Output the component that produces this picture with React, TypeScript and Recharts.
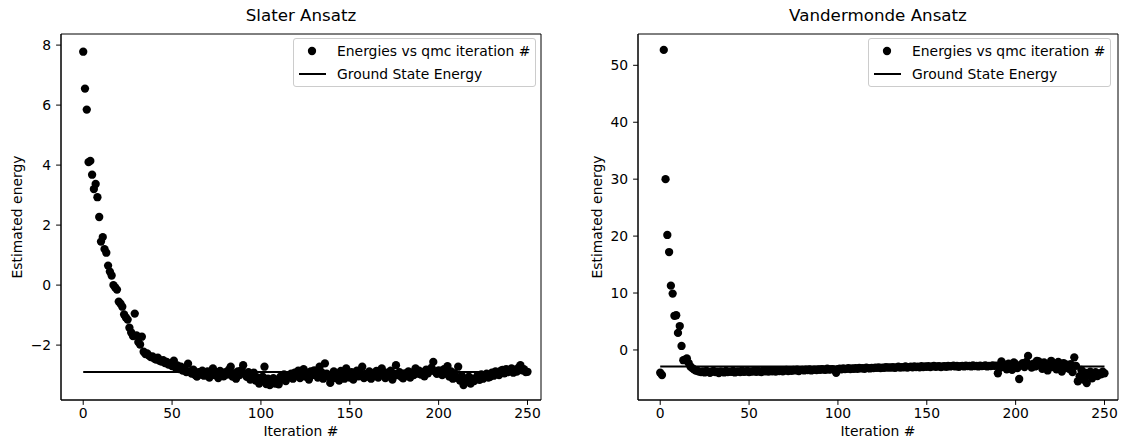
import React from 'react';
import { ScatterChart, Scatter, XAxis, YAxis, ReferenceLine, ReferenceArea } from 'recharts';

const FONT = "'DejaVu Sans', sans-serif";
const FS = 13.9;

const xTicks = [0, 50, 100, 150, 200, 250];
const slaterTicks = [-2, 0, 2, 4, 6, 8];
const vanderTicks = [0, 10, 20, 30, 40, 50];

const groundStateEnergy = -2.9;

const slaterEnergies = [
  7.78, 6.55, 5.85, 4.10, 4.14, 3.68, 3.20, 3.37, 2.93, 2.27,
  1.45, 1.60, 1.20, 1.08, 0.65, 0.45, 0.32, 0.00, -0.08, -0.15,
  -0.55, -0.62, -0.72, -0.98, -1.08, -1.15, -1.42, -1.58, -1.70, -0.95,
  -1.68, -1.90, -1.98, -1.72, -2.22, -2.30, -2.28, -2.35, -2.40, -2.38,
  -2.45, -2.48, -2.42, -2.52, -2.55, -2.50, -2.60, -2.56, -2.65, -2.62,
  -2.70, -2.52, -2.75, -2.68, -2.80, -2.72, -2.85, -2.78, -2.90, -2.62,
  -2.88, -2.95, -2.82, -3.00, -3.05, -2.90, -2.98, -2.85, -3.02, -2.92,
  -2.88, -3.08, -2.95, -2.78, -3.00, -2.92, -3.10, -2.86, -2.95, -3.04,
  -2.90, -2.98, -2.82, -2.72, -3.05, -2.94, -3.12, -2.88, -3.00, -2.84,
  -2.67, -2.96, -3.06, -2.90, -3.15, -3.00, -2.92, -3.18, -3.08, -3.28,
  -3.20, -3.05, -2.72, -3.30, -3.12, -3.33, -3.22, -3.10, -3.28, -3.18,
  -3.31, -3.05, -3.15, -2.98, -3.20, -3.08, -3.06, -2.95, -3.12, -2.92,
  -3.02, -2.85, -3.10, -2.95, -2.80, -3.05, -2.92, -3.15, -2.88, -3.00,
  -2.84, -2.98, -3.08, -2.72, -2.90, -3.12, -2.61, -2.95, -3.05, -3.26,
  -3.02, -2.88, -3.10, -2.96, -3.18, -2.86, -3.00, -3.12, -2.78, -2.94,
  -3.08, -2.90, -3.15, -2.98, -2.85, -3.04, -2.92, -2.72, -3.10, -2.96,
  -3.05, -2.88, -3.12, -2.94, -3.02, -2.86, -3.08, -2.95, -2.78, -3.00,
  -3.10, -2.92, -3.04, -2.85, -3.15, -2.96, -2.67, -3.00, -2.90, -3.06,
  -3.11, -2.94, -3.02, -2.88, -3.08, -2.92, -3.00, -2.78, -2.95, -2.85,
  -2.98, -2.90, -3.04, -2.82, -2.94, -2.86, -2.75, -2.56, -2.88, -2.96,
  -2.84, -2.92, -3.00, -2.80, -2.95, -2.70, -3.05, -2.88, -3.12, -2.94,
  -3.08, -2.72, -3.18, -3.02, -3.33, -3.15, -3.22, -3.05, -3.28, -3.12,
  -3.20, -3.10, -3.00, -3.16, -2.98, -3.12, -3.04, -2.95, -3.08, -3.06,
  -2.92, -3.02, -2.88, -2.96, -3.00, -2.85, -2.83, -2.94, -2.80, -2.90,
  -2.86, -2.78, -2.92, -2.82, -2.88, -2.75, -2.67, -2.84, -2.80, -2.90,
  -2.89,
];

const vandermondeEnergies = [
  -4.0, -4.4, 52.7, 30.0, 20.2, 17.2, 11.3, 9.9, 6.0, 6.1,
  3.0, 4.2, 0.7, -1.8, -1.7, -1.5, -2.3, -2.9, -3.2, -3.4,
  -3.6, -3.7, -3.8, -3.9, -3.75, -3.95, -3.7, -3.85, -4.0, -3.8,
  -3.7, -3.9, -3.8, -4.05, -3.75, -3.85, -3.95, -3.7, -3.9, -3.8,
  -3.85, -3.7, -3.95, -3.8, -3.75, -3.9, -3.65, -3.85, -3.8, -3.7,
  -3.9, -3.75, -3.8, -3.65, -3.85, -3.7, -3.8, -3.9, -3.6, -3.75,
  -3.7, -3.8, -3.6, -3.75, -3.65, -3.8, -3.55, -3.7, -3.6, -3.75,
  -3.6, -3.5, -3.7, -3.55, -3.65, -3.5, -3.6, -3.45, -3.7, -3.55,
  -3.5, -3.6, -3.45, -3.55, -3.4, -3.6, -3.5, -3.45, -3.55, -3.4,
  -3.5, -3.35, -3.45, -3.5, -3.3, -3.45, -3.4, -3.35, -3.5, -4.0,
  -3.35, -3.3, -3.4, -3.25, -3.35, -3.3, -3.2, -3.35, -3.25, -3.3,
  -3.2, -3.3, -3.15, -3.25, -3.2, -3.3, -3.1, -3.2, -3.25, -3.15,
  -3.2, -3.1, -3.15, -3.05, -3.2, -3.1, -3.15, -3.0, -3.1, -3.05,
  -3.1, -3.0, -3.15, -3.05, -2.95, -3.1, -3.0, -3.05, -2.9, -3.1,
  -3.0, -2.95, -3.05, -2.9, -3.0, -2.95, -3.05, -2.85, -3.0, -2.9,
  -2.95, -2.85, -3.0, -2.9, -2.8, -2.95, -2.9, -2.85, -3.0, -2.9,
  -2.85, -2.95, -2.8, -2.9, -2.85, -2.75, -2.9, -2.8, -2.95, -2.85,
  -2.8, -2.9, -2.75, -2.85, -2.8, -2.9, -2.7, -2.85, -2.8, -2.9,
  -2.75, -2.85, -2.8, -2.7, -2.9, -2.8, -2.85, -2.7, -2.8, -2.75,
  -4.1, -3.2, -2.0, -3.0, -2.6, -3.4, -2.4, -2.9, -3.5, -2.2,
  -2.5, -3.2, -5.1, -2.7, -2.3, -3.0, -2.1, -1.05, -2.6, -3.1,
  -2.4, -2.9, -1.9, -2.0, -2.7, -3.3, -2.2, -2.8, -3.6, -2.5,
  -1.9, -3.0, -2.4, -3.4, -2.1, -2.7, -3.8, -2.3, -3.1, -2.6,
  -3.3, -2.5, -3.9, -1.3, -2.8, -5.5, -4.6, -3.5, -5.2, -4.0,
  -5.8, -4.4, -3.8, -5.0, -4.2, -3.9, -4.6, -4.1, -4.3, -3.8,
  -4.1,
];

const iterations = slaterEnergies.map((_, i) => i);

const X_DOMAIN: [number, number] = [-12.5, 257.6];

const fmt = (v: number) => (v < 0 ? '\u2212' + Math.abs(v) : String(v));

const Dot = (props: any) => {
  const { cx, cy } = props;
  if (cx == null || cy == null) return null;
  return <circle cx={cx} cy={cy} r={4.15} fill="#000" />;
};

const YLabel = (props: any) => {
  const { viewBox, value, xPos } = props;
  const cy = viewBox.y + viewBox.height / 2;
  const cx = viewBox.x + xPos;
  return (
    <text x={cx} y={cy} transform={`rotate(-90, ${cx}, ${cy})`} textAnchor="middle" dominantBaseline="central"
      fontSize={FS} fontFamily={FONT} fill="#000">{value}</text>
  );
};

const XLabel = (props: any) => {
  const { viewBox, value } = props;
  const cx = viewBox.x + viewBox.width / 2;
  return (
    <text x={cx} y={436} textAnchor="middle" fontSize={FS} fontFamily={FONT} fill="#000">{value}</text>
  );
};

type PanelProps = {
  title: string;
  values: number[];
  yDomain: [number, number];
  yTicks: number[];
  yAxisWidth: number;
  marginRight: number;
  left: number;
  yLabelX: number;
  legendLeft: number;
};

const Panel = ({ title, values, yDomain, yTicks, yAxisWidth, marginRight, left, yLabelX, legendLeft }: PanelProps) => {
  const data = iterations.map((x, i) => ({ x, y: values[i] }));
  const plotLeft = yAxisWidth;
  const plotRight = 561 - marginRight;
  const tickStyle = { fontSize: FS, fill: '#000', fontFamily: FONT };
  return (
    <div style={{ position: 'absolute', left, top: 0, width: 561, height: 440 }}>
      <div style={{ position: 'absolute', top: 5, left: plotLeft, width: plotRight - plotLeft, textAlign: 'center',
        fontFamily: FONT, fontSize: 16.7, lineHeight: '20px', color: '#000', whiteSpace: 'nowrap' }}>{title}</div>
      <ScatterChart width={561} height={440} margin={{ top: 34, right: marginRight, bottom: 0, left: 0 }}>
        <XAxis type="number" dataKey="x" domain={X_DOMAIN} ticks={xTicks} allowDataOverflow height={40}
          tickSize={4.9} tickMargin={3.5} stroke="#000" tick={tickStyle} label={<XLabel value="Iteration #" />} />
        <YAxis type="number" dataKey="y" domain={yDomain} ticks={yTicks} allowDataOverflow width={yAxisWidth}
          tickSize={4.9} tickMargin={4.9} stroke="#000" tick={tickStyle} tickFormatter={fmt}
          label={<YLabel value="Estimated energy" xPos={yLabelX} />} />
        <ReferenceArea x1={X_DOMAIN[0]} x2={X_DOMAIN[1]} y1={yDomain[0]} y2={yDomain[1]} fill="none" fillOpacity={0}
          stroke="#000" strokeWidth={1} ifOverflow="visible" />
        <Scatter data={data} fill="#000" isAnimationActive={false} shape={Dot} />
        <ReferenceLine segment={[{ x: 0, y: groundStateEnergy }, { x: 250, y: groundStateEnergy }]} stroke="#000"
          strokeWidth={2} />
      </ScatterChart>
      <div style={{ position: 'absolute', left: legendLeft, top: 38, width: 243, height: 49, boxSizing: 'border-box',
        border: '1px solid #cccccc', borderRadius: 3, background: 'rgba(255,255,255,0.8)', fontFamily: FONT,
        fontSize: FS, color: '#000' }}>
        <div style={{ position: 'absolute', left: 0, top: 2, height: 20, width: '100%' }}>
          <svg width={40} height={20} style={{ position: 'absolute', left: 0, top: 0 }}>
            <circle cx={18} cy={10} r={4.15} fill="#000" />
          </svg>
          <span style={{ position: 'absolute', left: 43, top: 0, lineHeight: '20px', whiteSpace: 'nowrap' }}>Energies vs qmc iteration #</span>
        </div>
        <div style={{ position: 'absolute', left: 0, top: 25, height: 20, width: '100%' }}>
          <svg width={40} height={20} style={{ position: 'absolute', left: 0, top: 0 }}>
            <line x1={5} x2={32} y1={10} y2={10} stroke="#000" strokeWidth={2} />
          </svg>
          <span style={{ position: 'absolute', left: 43, top: 0, lineHeight: '20px', whiteSpace: 'nowrap' }}>Ground State Energy</span>
        </div>
      </div>
    </div>
  );
};

export default function App() {
  return (
    <div style={{ position: 'absolute', left: 0, top: 0, width: 1122, height: 440, background: '#fff' }}>
      <Panel title="Slater Ansatz" values={slaterEnergies} yDomain={[-3.83, 8.37]} yTicks={slaterTicks}
        yAxisWidth={61} marginRight={20} left={0} yLabelX={17} legendLeft={293} />
      <Panel title="Vandermonde Ansatz" values={vandermondeEnergies} yDomain={[-8.79, 55.5]} yTicks={vanderTicks}
        yAxisWidth={77} marginRight={4} left={561} yLabelX={36} legendLeft={307} />
    </div>
  );
}
